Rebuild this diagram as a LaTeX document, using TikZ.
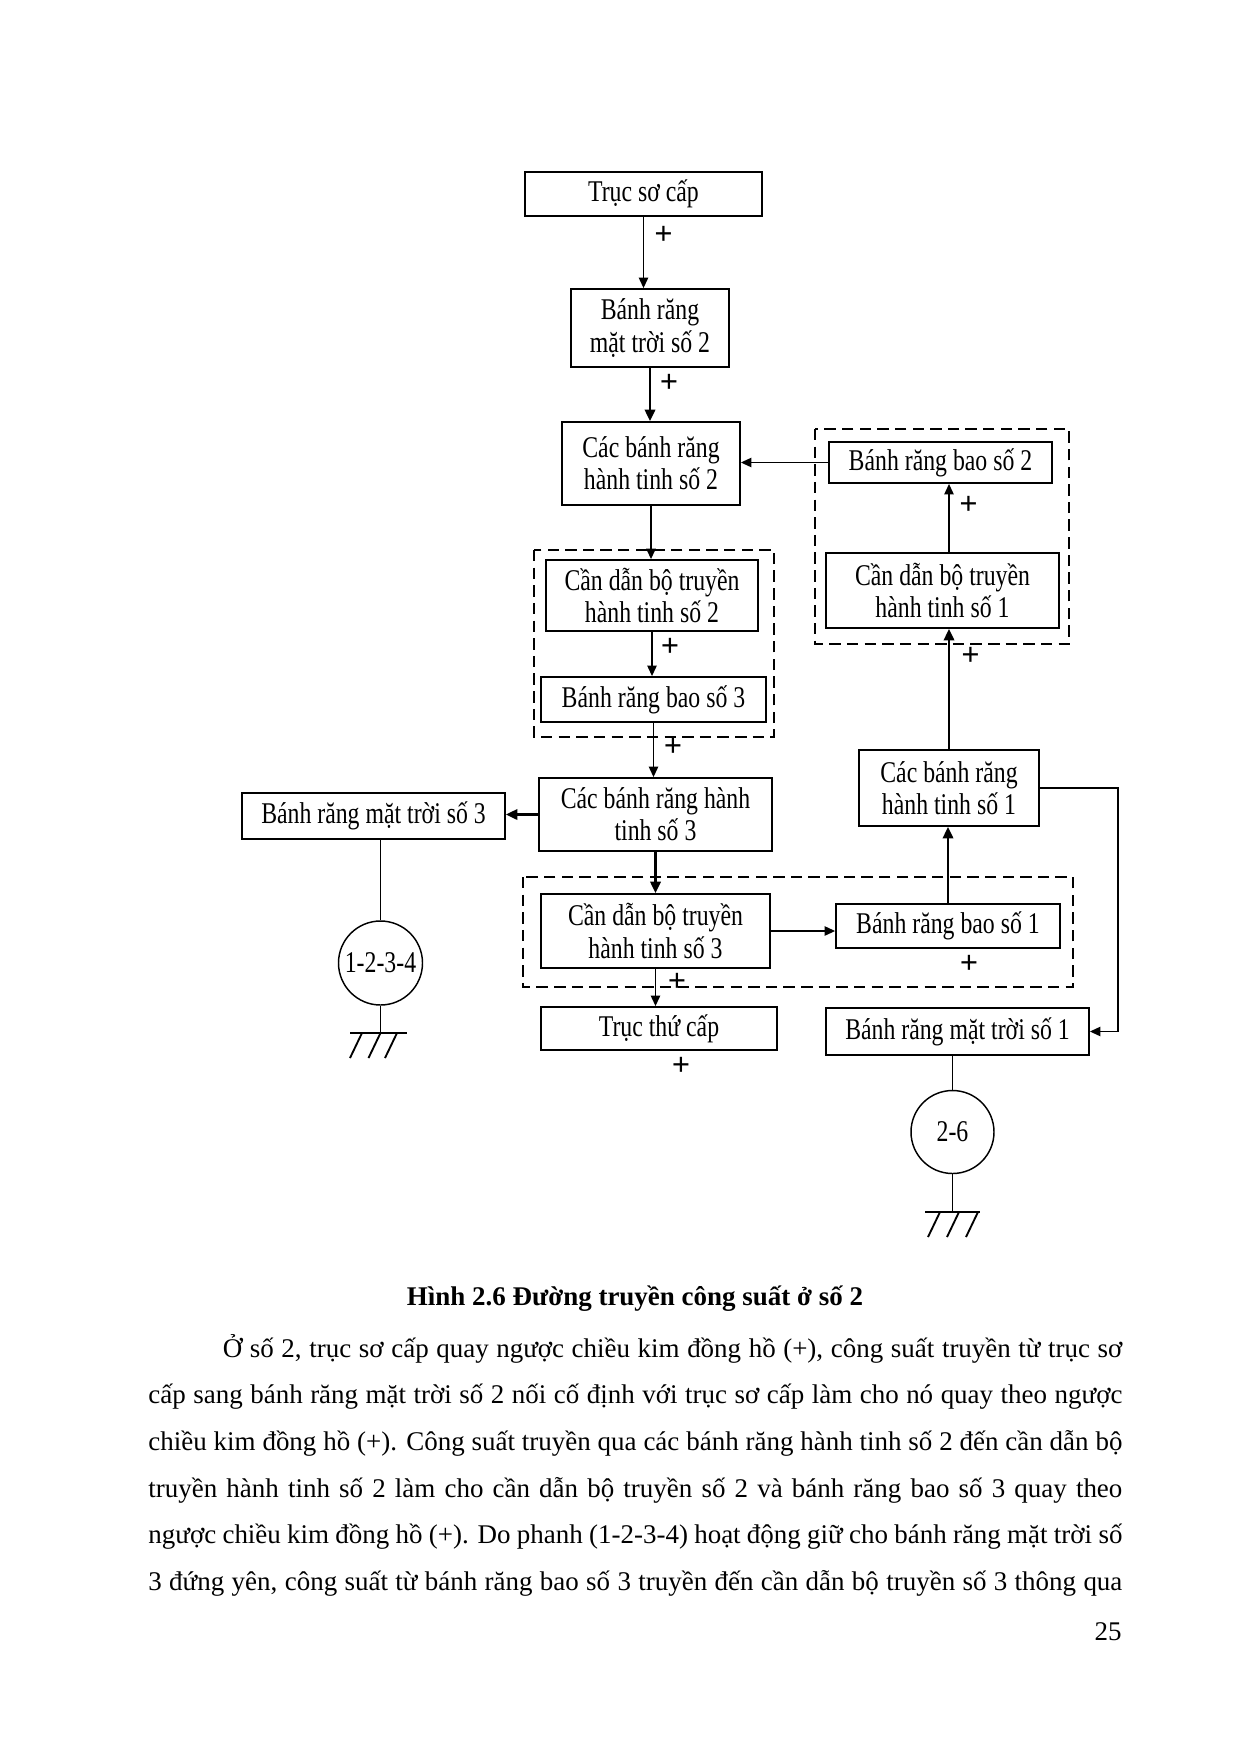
\documentclass[tikz,border=0pt]{standalone}
\usepackage{fontspec}
\setmainfont{Liberation Serif}
\newfontfamily\diagfont[FakeStretch=0.79]{Liberation Serif}
\usetikzlibrary{arrows.meta}
\def\pxu{0.169355mm}
\tikzset{
  gbox/.style={draw, line width=0.9pt, inner sep=0pt, align=center,
    font=\diagfont\fontsize{14.5}{15.5}\selectfont},
  conn/.style={line width=0.6pt, -{Triangle[length=5pt,width=4.5pt]}},
  connthick/.style={line width=1.1pt, -{Triangle[length=5.5pt,width=5pt]}},
  groundline/.style={line width=0.9pt},
  grp/.style={draw, line width=1.1pt, dash pattern=on 5.5pt off 3pt},
  brake/.style={draw, circle, line width=0.7pt, inner sep=0pt,
    font=\diagfont\fontsize{14.5}{15.5}\selectfont},
  sign/.style={font=\bfseries\fontsize{15.5}{15.5}\selectfont, inner sep=0pt},
  body/.style={anchor=base west, inner sep=0pt, font=\fontsize{13}{15}\selectfont},
}
\newcommand{\gbox}[6]{\node[gbox, minimum width={(#4-#2)*\pxu}, minimum height={(#5-#3)*\pxu}] (#1) at ({(#2+#4)/2},{(#3+#5)/2}) {#6};}
\begin{document}
\begin{tikzpicture}[x=0.169355mm, y=-0.169355mm]
\fill[white] (0,0) rectangle (1240,1754);
\useasboundingbox (0,0) rectangle (1240,1754);

% dashed groups
\draw[grp] (815,429) rectangle (1069,644);
\draw[grp] (534,550) rectangle (774,737);
\draw[grp] (523,877) rectangle (1073,987);

% boxes
\gbox{A}{525}{172}{762}{216}{Trục sơ cấp}
\gbox{B}{571}{289}{729}{367}{Bánh răng\\mặt trời số 2}
\gbox{C}{562}{422}{740}{505}{Các bánh răng\\hành tinh số 2}
\gbox{D}{829}{442}{1052}{483}{Bánh răng bao số 2}
\gbox{E}{826}{553}{1059}{628}{Cần dẫn bộ truyền\\hành tinh số 1}
\gbox{F}{859}{750}{1039}{826}{Các bánh răng\\hành tinh số 1}
\gbox{G}{546}{560}{758}{631}{Cần dẫn bộ truyền\\hành tinh số 2}
\gbox{H}{541}{677}{766}{722}{Bánh răng bao số 3}
\gbox{I}{539}{778}{772}{851}{Các bánh răng hành\\tinh số 3}
\gbox{J}{242}{793}{505}{839}{Bánh răng mặt trời số 3}
\gbox{K}{541}{894}{770}{968}{Cần dẫn bộ truyền\\hành tinh số 3}
\gbox{L}{836}{904}{1060}{948}{Bánh răng bao số 1}
\gbox{M}{541}{1007}{777}{1050}{Trục thứ cấp}
\gbox{N}{826}{1008}{1089}{1055}{Bánh răng mặt trời số 1}

% brakes
\node[brake, minimum size={84*\pxu}] (c1) at (380.5,963) {1-2-3-4};
\node[brake, minimum size={83*\pxu}] (c2) at (952.5,1132) {2-6};

% helper coordinates
\coordinate (xE) at (949,0);
\coordinate (xR) at (1118,0);
\coordinate (g1) at (380.5,1033);
\coordinate (g2) at (952.5,1212);

% connectors
\draw[conn] (A.south) -- (A.south |- B.north);
\draw[connthick] (B.south) -- (B.south |- C.north);
\draw[conn] (D.west) -- (D.west -| C.east);
\draw[conn] (E.north -| xE) -- (D.south -| xE);
\draw[connthick] (F.north) -- (F.north |- E.south);
\draw[conn] (F.east) -- (F.east -| xR) -- (xR |- N.east) -- (N.east);
\draw[conn] (C.south) -- (C.south |- G.north);
\draw[conn] (G.south) -- (G.south |- H.north);
\draw[conn] (H.south) -- (H.south |- I.north);
\draw[connthick] (I.west) -- (I.west -| J.east);
\draw[connthick] (I.south) -- (I.south |- K.north);
\draw[conn] (K.east) -- (K.east -| L.west);
\draw[connthick] (L.north) -- (L.north |- F.south);
\draw[conn] (K.south) -- (K.south |- M.north);
\draw[groundline] (J.south -| c1.north) -- (c1.north);
\draw[groundline] (N.south -| c2.north) -- (c2.north);
\draw[groundline] (c1.south) -- (g1);
\draw[groundline] (c2.south) -- (g2);

% ground symbols
\draw[groundline] (g1) ++(-30.5,0) -- ++(57,0);
\foreach \dx in {-18.5,0,16.5} \draw[groundline] (g1) ++(\dx,0) -- ++(-12,25);
\draw[groundline] (g2) ++(-27.5,0) -- ++(55,0);
\foreach \dx in {-12.5,6.5,25.5} \draw[groundline] (g2) ++(\dx,0) -- ++(-12,25);

% signs
\node[sign] (p1) at (663.5,235) {+};
\node[sign] (p2) at (669,383) {+};
\node[sign] (p3) at (968.6,505) {+};
\node[sign] (p4) at (970.5,656) {+};
\node[sign] (p5) at (670,647) {+};
\node[sign] (p6) at (673,747) {+};
\node[sign] (p7) at (969,964) {+};
\node[sign] (p8) at (677,982) {+};
\node[sign] (p9) at (681,1066) {+};

% caption and text
\node[anchor=base, inner sep=0pt, font=\bfseries\fontsize{13}{15}\selectfont] (cap) at (635,1305) {Hình 2.6 Đường truyền công suất ở số 2};
\node[body] (t1) at (222.5,1357) {\makebox[152.33mm][s]{Ở số 2, trục sơ cấp quay ngược chiều kim đồng hồ (+), công suất truyền từ trục sơ}};
\node[body] (t2) at (148,1403) {\makebox[164.95mm][s]{cấp sang bánh răng mặt trời số 2 nối cố định với trục sơ cấp làm cho nó quay theo ngược}};
\node[body] (t3) at (148,1450) {\makebox[164.95mm][s]{chiều kim đồng hồ (+). Công suất truyền qua các bánh răng hành tinh số 2 đến cần dẫn bộ}};
\node[body] (t4) at (148,1497) {\makebox[164.95mm][s]{truyền hành tinh số 2 làm cho cần dẫn bộ truyền số 2 và bánh răng bao số 3 quay theo}};
\node[body] (t5) at (148,1543) {\makebox[164.95mm][s]{ngược chiều kim đồng hồ (+). Do phanh (1-2-3-4) hoạt động giữ cho bánh răng mặt trời số}};
\node[body] (t6) at (148,1590) {\makebox[164.95mm][s]{3 đứng yên, công suất từ bánh răng bao số 3 truyền đến cần dẫn bộ truyền số 3 thông qua}};
\node[anchor=base east, inner sep=0pt, font=\fontsize{13}{15}\selectfont] (pg) at (1122,1640) {25};
\end{tikzpicture}
\end{document}
